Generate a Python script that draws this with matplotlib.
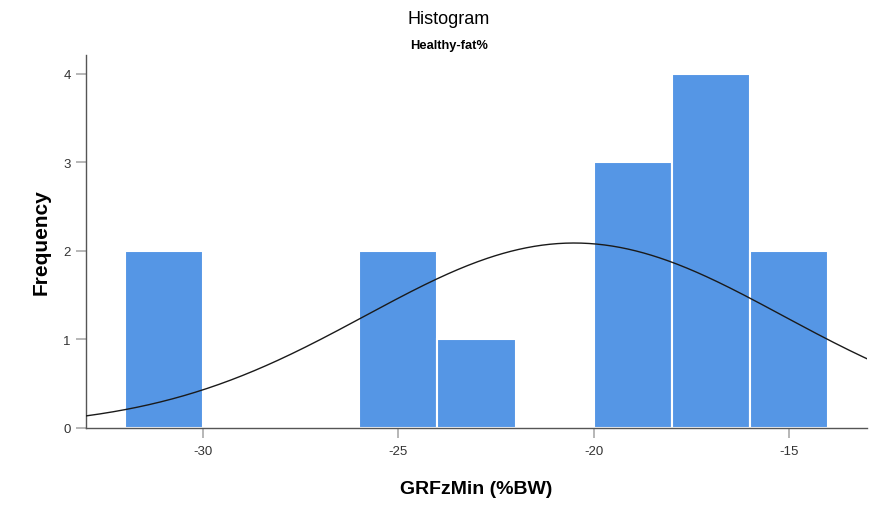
import numpy as np
import matplotlib
matplotlib.use("Agg")
import matplotlib.pyplot as plt

# Histogram bins (left edges, width) and frequencies
bin_lefts = [-32, -26, -24, -20, -18, -16]
bin_width = 2
counts = [2, 2, 1, 3, 4, 2]

# Fitted normal curve parameters
mean = -20.5
std = 5.35
n_total = sum(counts)

x_ticks = [-30, -25, -20, -15]
y_ticks = [0, 1, 2, 3, 4]

plt.rcParams['font.family'] = ['Liberation Sans', 'DejaVu Sans']

fig = plt.figure(figsize=(8.71, 5.06), dpi=100)
ax = fig.add_axes([0.0987, 0.1522, 0.8967, 0.7371])

ax.bar(bin_lefts, counts, width=bin_width, align='edge',
       color='#5596e5', edgecolor='white', linewidth=1.5, zorder=2)

xs = np.linspace(-33, -13, 400)
ys = n_total * bin_width / (std * np.sqrt(2 * np.pi)) * np.exp(-0.5 * ((xs - mean) / std) ** 2)
ax.plot(xs, ys, color='#1a1a1a', linewidth=1.0, zorder=3)

ax.set_xlim(-33, -13)
ax.set_ylim(0, 4.21)
ax.set_xticks(x_ticks)
ax.set_xticklabels([str(t) for t in x_ticks])
ax.set_yticks(y_ticks)

for side in ('top', 'right'):
    ax.spines[side].set_visible(False)
for side in ('left', 'bottom'):
    ax.spines[side].set_color('#555555')
    ax.spines[side].set_linewidth(1.0)

ax.tick_params(axis='both', colors='#aaaaaa', labelcolor='#333333',
               labelsize=9.5, length=7, width=1.2, direction='out')
ax.tick_params(axis='x', pad=5)
ax.tick_params(axis='y', pad=4)

ax.set_xlabel('GRFzMin (%BW)', fontsize=14, fontweight='bold', labelpad=17)
ax.set_ylabel('Frequency', fontsize=15, fontweight='bold', labelpad=9)

fig.text(0.515, 0.962, 'Histogram', ha='center', va='center', fontsize=13)
fig.text(0.515, 0.910, 'Healthy-fat%', ha='center', va='center',
         fontsize=9.3, fontweight='bold')

fig.savefig('out.png', dpi=100)
